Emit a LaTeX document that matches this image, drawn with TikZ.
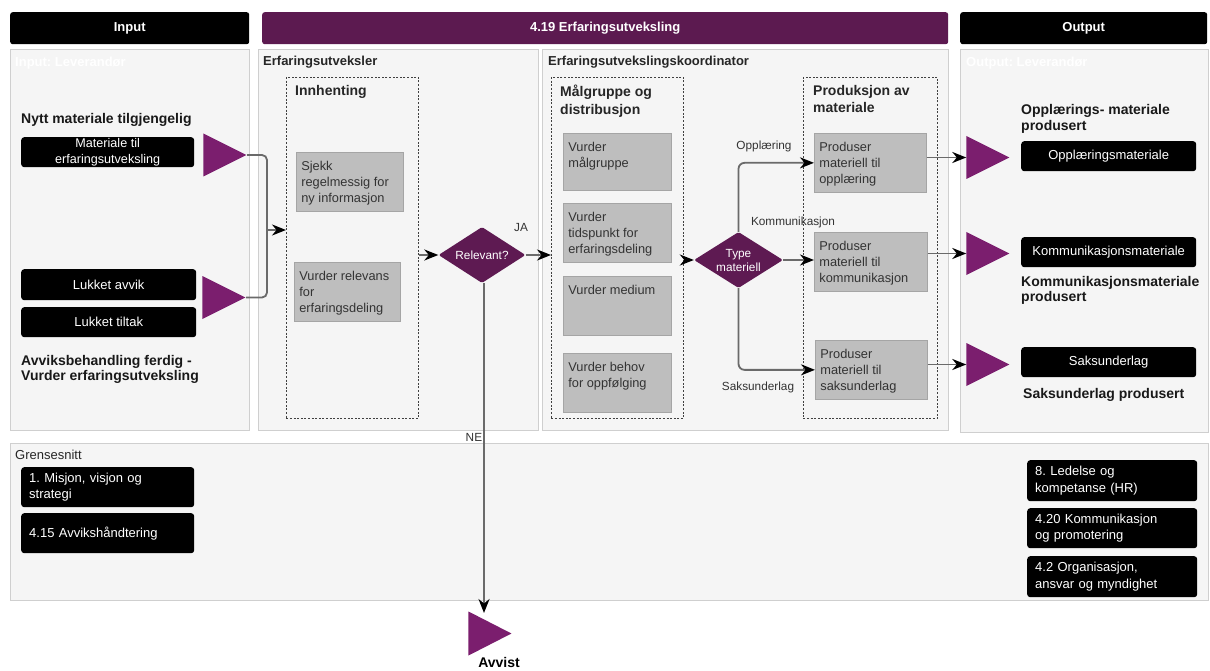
\documentclass[tikz,border=0pt]{standalone}
\usepackage{fontspec}
\setmainfont{Liberation Sans}
\usetikzlibrary{arrows.meta,shapes.geometric}

\definecolor{hdrpurple}{HTML}{5C1A50}
\definecolor{flagpurple}{HTML}{7B1E6E}
\definecolor{decisionfill}{HTML}{5E1A52}
\definecolor{panelfill}{HTML}{F5F5F5}
\definecolor{panelline}{HTML}{CFCFCF}
\definecolor{taskfill}{HTML}{BEBEBE}
\definecolor{taskline}{HTML}{A5A5A5}
\definecolor{taskink}{HTML}{333333}
\definecolor{flowgray}{HTML}{6A6A6A}

\newcommand{\fHdr}{\bfseries\fontsize{13}{15}\selectfont}
\newcommand{\fPanel}{\bfseries\fontsize{13}{15}\selectfont}
\newcommand{\fLane}{\bfseries\fontsize{14}{17.5}\selectfont}
\newcommand{\fBig}{\bfseries\fontsize{14}{15.5}\selectfont}
\newcommand{\fTask}{\fontsize{12.8}{16}\selectfont}
\newcommand{\fTag}{\fontsize{13}{16.5}\selectfont}
\newcommand{\fEdge}{\fontsize{11.8}{14}\selectfont}
% text block pinned to the top of a task box: width, height, lines
\newcommand{\tasktext}[3]{\parbox[c][#2pt][t]{#1pt}{\vspace*{8.5pt}\raggedright #3}}

\begin{document}
\frenchspacing
\begin{tikzpicture}[x=1pt,y=-1pt,
  panel/.style={draw=panelline, fill=panelfill, line width=0.9pt, inner sep=0pt, anchor=north west},
  bar/.style={fill=#1, rounded corners=2.5pt, text=white, font=\fHdr, inner sep=0pt, anchor=north west},
  lanebox/.style={draw=black!75, dash pattern=on 2pt off 1.6pt, line width=0.7pt, inner sep=0pt, anchor=north west},
  task/.style={draw=taskline, fill=taskfill, line width=0.7pt, inner xsep=5pt, inner ysep=0pt, anchor=north west, font=\fTask, text=taskink},
  tag/.style={fill=black, rounded corners=3pt, text=white, inner sep=0pt, anchor=north west, font=\fTag},
  decision/.style={diamond, fill=decisionfill, text=white, inner sep=0pt, font=\fEdge, align=center, rounded corners=1.5pt},
  flag/.style={isosceles triangle, isosceles triangle stretches, shape border rotate=0, fill=flagpurple, inner sep=0pt, minimum width=43pt, minimum height=43pt, anchor=apex},
  flow/.style={draw=flowgray, line width=1.8pt},
  flowarrow/.style={flow, -{Stealth[length=14pt,width=11pt,inset=4.5pt,color=black]}},
  edgelbl/.style={font=\fEdge, text=taskink, inner sep=0pt},
  heading/.style={font=\fBig, text=black!90, inner sep=0pt, anchor=west, align=left},
  lanetitle/.style={font=\fLane, text=black!85, inner sep=0pt, anchor=north west, align=left},
  paneltitle/.style={font=\fPanel, text=black!85, inner sep=0pt, anchor=west},
  ghost/.style={font=\fPanel, text=white, inner sep=0pt, anchor=west}
]
\fill[white] (0,0) rectangle (1210,671);
\useasboundingbox (0,0) rectangle (1210,671);

% ---------- header bars ----------
\node[bar=black, minimum width=239pt, minimum height=32pt] (hin) at (10,12) {Input};
\node[bar=hdrpurple, minimum width=686pt, minimum height=32pt] (hmid) at (262,12) {4.19 Erfaringsutveksling};
\node[bar=black, minimum width=247pt, minimum height=32pt] (hout) at (960,12) {Output};

% ---------- panels ----------
\node[panel, minimum width=239pt, minimum height=381pt] (pin) at (10,49) {};
\node[panel, minimum width=280pt, minimum height=381pt] (perf) at (258,49) {};
\node[panel, minimum width=406pt, minimum height=381pt] (pkoord) at (542,49) {};
\node[panel, minimum width=248pt, minimum height=383pt] (pout) at (960,49) {};
\node[panel, minimum width=1198pt, minimum height=157pt] (pgrense) at (10,443) {};

\node[ghost] (gin) at (15,63) {Input: Leverandør};
\node[ghost] (gout) at (966,63) {Output: Leverandør};
\node[paneltitle] (terf) at (263,62) {Erfaringsutveksler};
\node[paneltitle] (tkoord) at (548,62) {Erfaringsutvekslingskoordinator};
\node[paneltitle, font=\fontsize{13}{15}\selectfont] (tgrense) at (15,455) {Grensesnitt};

% ---------- dashed lanes ----------
\node[lanebox, minimum width=132pt, minimum height=341pt] (innh) at (286,77) {};
\node[lanebox, minimum width=132pt, minimum height=341pt] (malg) at (551,77) {};
\node[lanebox, minimum width=134pt, minimum height=341pt] (prod) at (803,77) {};
\node[lanetitle] (tinnh) at (295,85) {Innhenting};
\node[lanetitle] (tmalg) at (560,85) {Målgruppe og\\distribusjon};
\node[lanetitle] (tprod) at (813,85) {Produksjon av\\materiale};

% ---------- input side ----------
\node[heading] (hnytt) at (21,120) {Nytt materiale tilgjengelig};
\node[tag, minimum width=173pt, minimum height=30pt, align=center, font=\fontsize{12.6}{16.5}\selectfont] (mat) at (21,137) {Materiale til\\erfaringsutveksling};
\node[flag] (t1) at (247,155) {};
\node[tag, minimum width=175pt, minimum height=31pt] (lavvik) at (21,269) {Lukket avvik};
\node[tag, minimum width=175pt, minimum height=30pt] (ltiltak) at (21,307) {Lukket tiltak};
\node[flag] (t2) at (246,297.5) {};
\node[heading] (havvik) at (21,369.5) {Avviksbehandling ferdig -\\Vurder erfaringsutveksling};

% ---------- Innhenting tasks ----------
\node[task] (sjekk) at (296,152) {\tasktext{97}{59}{Sjekk\\regelmessig for\\ny informasjon}};
\node[task] (relv) at (294,262) {\tasktext{96}{59}{Vurder relevans\\for\\erfaringsdeling}};

% ---------- decision: relevant ----------
\node[decision, aspect=1.55, minimum width=87pt, minimum height=56pt] (rel) at (482,255) {Relevant?};

% ---------- Målgruppe tasks ----------
\node[task] (mg1) at (563,133) {\tasktext{98}{57}{Vurder\\målgruppe}};
\node[task] (mg2) at (563,203) {\tasktext{98}{59}{Vurder\\tidspunkt for\\erfaringsdeling}};
\node[task] (mg3) at (563,276) {\tasktext{98}{59}{Vurder medium}};
\node[task] (mg4) at (563,353) {\tasktext{98}{59}{Vurder behov\\for oppfølging}};

% ---------- decision: type ----------
\node[decision, aspect=1.6, minimum width=89pt, minimum height=56pt] (typ) at (738.5,260) {Type\\materiell};

% ---------- Produksjon tasks ----------
\node[task] (pr1) at (814,133) {\tasktext{102}{59}{Produser\\materiell til\\opplæring}};
\node[task] (pr2) at (814,232) {\tasktext{103}{59}{Produser\\materiell til\\kommunikasjon}};
\node[task] (pr3) at (815,340) {\tasktext{102}{59}{Produser\\materiell til\\saksunderlag}};

% ---------- output side ----------
\node[heading] (hopp) at (1021,119) {Opplærings- materiale\\produsert};
\node[flag] (t3) at (1010,157.5) {};
\node[tag, minimum width=175pt, minimum height=30pt] (oopp) at (1021,141) {Opplæringsmateriale};
\node[flag] (t4) at (1010,253.5) {};
\node[tag, minimum width=175pt, minimum height=30pt] (okom) at (1021,237) {Kommunikasjonsmateriale};
\node[heading] (hkom) at (1021,290.5) {Kommunikasjonsmateriale\\produsert};
\node[flag] (t5) at (1010,364.5) {};
\node[tag, minimum width=175pt, minimum height=30pt] (osak) at (1021,347) {Saksunderlag};
\node[heading] (hsak) at (1023,395) {Saksunderlag produsert};

% ---------- interfaces ----------
\node[tag, minimum width=173pt, minimum height=40pt, text width=157pt, align=left] (g1) at (21,467) {1. Misjon, visjon og\\strategi};
\node[tag, minimum width=173pt, minimum height=40pt, text width=157pt, align=left] (g2) at (21,513) {4.15 Avvikshåndtering};
\node[tag, minimum width=170pt, minimum height=41pt, text width=154pt, align=left] (g3) at (1027,460) {8. Ledelse og\\kompetanse (HR)};
\node[tag, minimum width=170pt, minimum height=40pt, text width=154pt, align=left] (g4) at (1027,508) {4.20 Kommunikasjon\\og promotering};
\node[tag, minimum width=170pt, minimum height=41pt, text width=154pt, align=left] (g5) at (1027,556) {4.2 Organisasjon,\\ansvar og myndighet};

% ---------- rejected end ----------
\node[flag, minimum width=44pt] (avv) at (512,633.5) {};
\node[font=\fBig, inner sep=0pt] (tavv) at (499,662) {Avvist};
\coordinate (avvistin) at (484,613);

% ---------- connectors ----------
\coordinate (merge) at (267,230);
\draw[flow, rounded corners=5pt] (t1.apex) -| (merge);
\draw[flow, rounded corners=5pt] (t2.apex) -| (merge);
\draw[flowarrow] (merge) -- (merge -| innh.west);

\draw[flowarrow] (innh.east |- rel.west) -- (rel.west);
\draw[flowarrow] (rel.east) -- (rel.east -| malg.west);
\node[edgelbl] (lja) at (521,227) {JA};
\node[edgelbl, anchor=east] (lnei) at (485.6,437) {NEI};
\draw[flowarrow] (rel.south -| avvistin) -- (avvistin);

\draw[flowarrow] (malg.east |- typ.west) -- (typ.west);
\draw[flowarrow, rounded corners=6pt] (typ.north) |- (pr1.west);
\draw[flowarrow] (typ.east) -- (typ.east -| pr2.west);
\draw[flowarrow, rounded corners=6pt] (typ.south) |- (pr3.west);
\node[edgelbl] (lopp) at (764,146) {Opplæring};
\node[edgelbl] (lkom) at (793,222) {Kommunikasjon};
\node[edgelbl] (lsak) at (758,387) {Saksunderlag};

\draw[flowarrow] (pr1.east |- t3.west) -- (t3.west);
\draw[flowarrow] (pr2.east |- t4.west) -- (t4.west);
\draw[flowarrow] (pr3.east |- t5.west) -- (t5.west);
\end{tikzpicture}
\end{document}
